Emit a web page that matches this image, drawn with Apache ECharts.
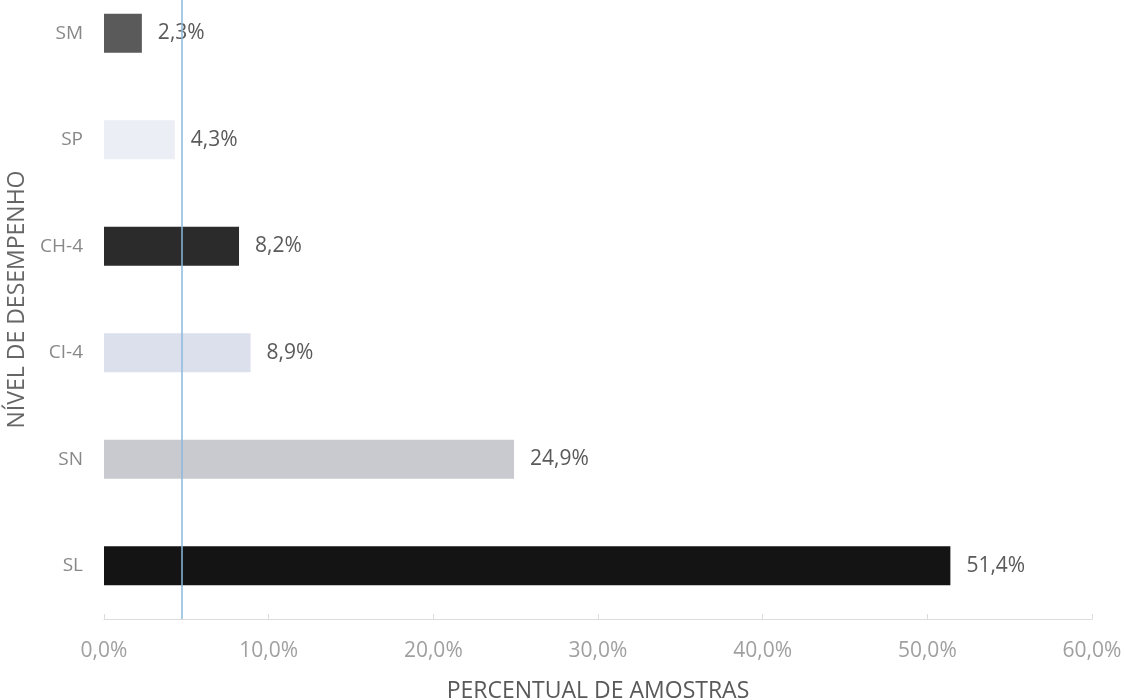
<!DOCTYPE html>
<html>
<head>
<meta charset="utf-8">
<script src="https://cdn.jsdelivr.net/npm/echarts@6/dist/echarts.min.js"></script>
<style>html,body{margin:0;padding:0;background:#fff;}#chart{width:1124px;height:700px;}</style>
</head>
<body>
<div id="chart"></div>
<script>
const categories = ["SL", "SN", "CI-4", "CH-4", "SP", "SM"];
const values = [51.4, 24.9, 8.9, 8.2, 4.3, 2.3];
const barColors = ["#141414", "#c9cacf", "#dcdfec", "#2b2b2b", "#eceef5", "#5a5a5a"];
const xTicks = [0, 10, 20, 30, 40, 50, 60];
const scanLineAt = [4.75];

const fmt = v => v.toFixed(1).replace('.', ',') + '%';
const chart = echarts.init(document.getElementById('chart'));
chart.setOption({
  backgroundColor: '#ffffff',
  animation: false,
  textStyle: { fontFamily: 'Open Sans' },
  grid: { left: 104, width: 988, top: -20, height: 639, containLabel: false, outerBoundsMode: 'none' },
  xAxis: {
    type: 'value', min: xTicks[0], max: xTicks[xTicks.length - 1], interval: 10,
    name: 'PERCENTUAL DE AMOSTRAS', nameLocation: 'middle', nameGap: 61,
    nameTextStyle: { color: '#595959', fontSize: 23, fontFamily: 'Open Sans' },
    axisLine: { show: true, lineStyle: { color: '#dcdcdc', width: 1 } },
    axisTick: { show: true, inside: true, length: 5, lineStyle: { color: '#dcdcdc' } },
    splitLine: { show: false },
    axisLabel: { color: '#a0a0a0', fontSize: 21, margin: 22, formatter: v => fmt(v) }
  },
  yAxis: {
    type: 'category', data: categories,
    name: 'NÍVEL DE DESEMPENHO', nameLocation: 'middle', nameGap: 68,
    nameTextStyle: { color: '#666', fontSize: 23, fontFamily: 'Open Sans' },
    axisLine: { show: false }, axisTick: { show: false },
    axisLabel: { color: '#888', fontSize: 19, margin: 21 }
  },
  series: [{
    type: 'bar',
    data: values.map((v, i) => ({ value: v, itemStyle: { color: barColors[i] } })),
    barWidth: 39,
    label: { show: true, position: 'right', distance: 16, color: '#5a5a5a', fontSize: 21, formatter: p => fmt(p.value) },
    markLine: {
      silent: true, symbol: 'none', label: { show: false },
      lineStyle: { color: '#8ab8dc', width: 1.5, type: 'solid' },
      data: scanLineAt.map(x => ({ xAxis: x }))
    }
  }]
});
</script>
</body>
</html>
